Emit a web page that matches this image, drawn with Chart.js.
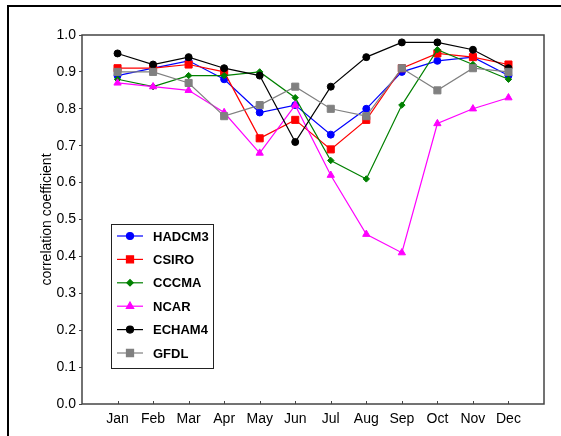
<!DOCTYPE html>
<html>
<head>
<meta charset="utf-8">
<script src="https://cdn.jsdelivr.net/npm/chart.js@4.4.0/dist/chart.umd.min.js"></script>
<style>
  body { margin: 0; background: #fff; }
  canvas { display: block; }
</style>
</head>
<body>
<canvas id="corrChart" width="561" height="436"></canvas>
<script>
(function () {
    "use strict";

    var months = ["Jan", "Feb", "Mar", "Apr", "May", "Jun", "Jul", "Aug", "Sep", "Oct", "Nov", "Dec"];
    var yTicks = [0.0, 0.1, 0.2, 0.3, 0.4, 0.5, 0.6, 0.7, 0.8, 0.9, 1.0];

    var hadcm3 = [0.89, 0.91, 0.93, 0.88, 0.79, 0.81, 0.73, 0.80, 0.90, 0.93, 0.94, 0.89];
    var csiro  = [0.91, 0.91, 0.92, 0.90, 0.72, 0.77, 0.69, 0.77, 0.91, 0.95, 0.94, 0.92];
    var cccma  = [0.88, 0.86, 0.89, 0.89, 0.90, 0.83, 0.66, 0.61, 0.81, 0.96, 0.92, 0.88];
    var ncar   = [0.87, 0.86, 0.85, 0.79, 0.68, 0.81, 0.62, 0.46, 0.41, 0.76, 0.80, 0.83];
    var echam4 = [0.95, 0.92, 0.94, 0.91, 0.89, 0.71, 0.86, 0.94, 0.98, 0.98, 0.96, 0.91];
    var gfdl   = [0.90, 0.90, 0.87, 0.78, 0.81, 0.86, 0.80, 0.78, 0.91, 0.85, 0.91, 0.90];

    var FONT = "'Liberation Sans', Arial, sans-serif";

    function series(label, values, color, style, radius, order) {
        return {
            label: label,
            data: values.map(function (v, i) { return { x: i + 1, y: v }; }),
            borderColor: color,
            backgroundColor: color,
            pointBackgroundColor: color,
            pointBorderColor: color,
            pointStyle: style,
            pointRadius: radius,
            pointBorderWidth: 1,
            borderWidth: 1.2,
            tension: 0,
            order: order
        };
    }

    // outer frame, plot box, inward x ticks
    var framePlugin = {
        id: "frame",
        afterDraw: function (chart) {
            var ctx = chart.ctx;
            var a = chart.chartArea;
            ctx.save();
            ctx.strokeStyle = "#000";
            ctx.lineWidth = 2;
            ctx.strokeRect(8, 6, 700, 700);
            ctx.strokeStyle = "#444";
            ctx.lineWidth = 1.5;
            ctx.strokeRect(a.left, a.top, a.right - a.left, a.bottom - a.top);
            var xs = chart.scales.x;
            ctx.lineWidth = 1;
            months.forEach(function (m, i) {
                var px = Math.round(xs.getPixelForValue(i + 1)) + 0.5;
                ctx.beginPath();
                ctx.moveTo(px, a.bottom);
                ctx.lineTo(px, a.bottom - 3);
                ctx.stroke();
            });
            ctx.restore();
        }
    };

    // boxed legend inside the plot area
    var legendPlugin = {
        id: "boxLegend",
        afterDraw: function (chart) {
            var ctx = chart.ctx;
            var left = 111, top = 224, w = 102, h = 144;
            ctx.save();
            ctx.fillStyle = "#fff";
            ctx.fillRect(left, top, w, h);
            ctx.strokeStyle = "#222";
            ctx.lineWidth = 1;
            ctx.strokeRect(left + 0.5, top + 0.5, w, h);
            chart.data.datasets.forEach(function (ds, i) {
                var y = 236 + i * 23.4;
                ctx.strokeStyle = ds.borderColor;
                ctx.fillStyle = ds.borderColor;
                ctx.lineWidth = 1.2;
                ctx.beginPath();
                ctx.moveTo(117, y);
                ctx.lineTo(143, y);
                ctx.stroke();
                Chart.helpers.drawPoint(ctx, {
                    pointStyle: ds.pointStyle,
                    radius: ds.pointRadius,
                    rotation: 0,
                    borderWidth: 1
                }, 130, y);
                ctx.fillStyle = "#000";
                ctx.font = "bold 13px " + FONT;
                ctx.textBaseline = "middle";
                ctx.textAlign = "left";
                ctx.fillText(ds.label, 153, y + 1);
            });
            ctx.restore();
        }
    };

    var ctx = document.getElementById("corrChart").getContext("2d");
    new Chart(ctx, {
        type: "line",
        data: {
            datasets: [
                series("HADCM3", hadcm3, "#0000ff", "circle", 3.5, 6),
                series("CSIRO", csiro, "#ff0000", "rect", 5, 5),
                series("CCCMA", cccma, "#008000", "rectRot", 3.2, 4),
                series("NCAR", ncar, "#ff00ff", "triangle", 4.2, 3),
                series("ECHAM4", echam4, "#000000", "circle", 3.5, 2),
                series("GFDL", gfdl, "#808080", "rect", 5, 1)
            ]
        },
        options: {
            responsive: false,
            animation: false,
            layout: { padding: { left: 35, top: 35, right: 17, bottom: 0 } },
            plugins: {
                legend: { display: false },
                tooltip: { enabled: false }
            },
            scales: {
                x: {
                    type: "linear",
                    min: 0,
                    max: 13,
                    afterFit: function (s) { s.height = 32; },
                    afterBuildTicks: function (s) {
                        s.ticks = months.map(function (m, i) { return { value: i + 1 }; });
                    },
                    ticks: {
                        autoSkip: false,
                        maxRotation: 0,
                        padding: 7,
                        color: "#000",
                        font: { family: FONT, size: 14 },
                        callback: function (v) { return months[v - 1] || ""; }
                    },
                    grid: { display: false, drawTicks: false },
                    border: { display: false }
                },
                y: {
                    min: 0,
                    max: 1,
                    afterFit: function (s) { s.width = 47; },
                    afterBuildTicks: function (s) {
                        s.ticks = yTicks.map(function (v) { return { value: v }; });
                    },
                    ticks: {
                        padding: 3,
                        color: "#000",
                        font: { family: FONT, size: 14 },
                        callback: function (v) { return v.toFixed(1); }
                    },
                    grid: {
                        drawOnChartArea: false,
                        drawTicks: true,
                        tickLength: 3,
                        color: "#444"
                    },
                    border: { display: false },
                    title: {
                        display: true,
                        text: "correlation coefficient",
                        color: "#000",
                        font: { family: FONT, size: 14 }
                    }
                }
            }
        },
        plugins: [framePlugin, legendPlugin]
    });
})();
</script>
</body>
</html>
